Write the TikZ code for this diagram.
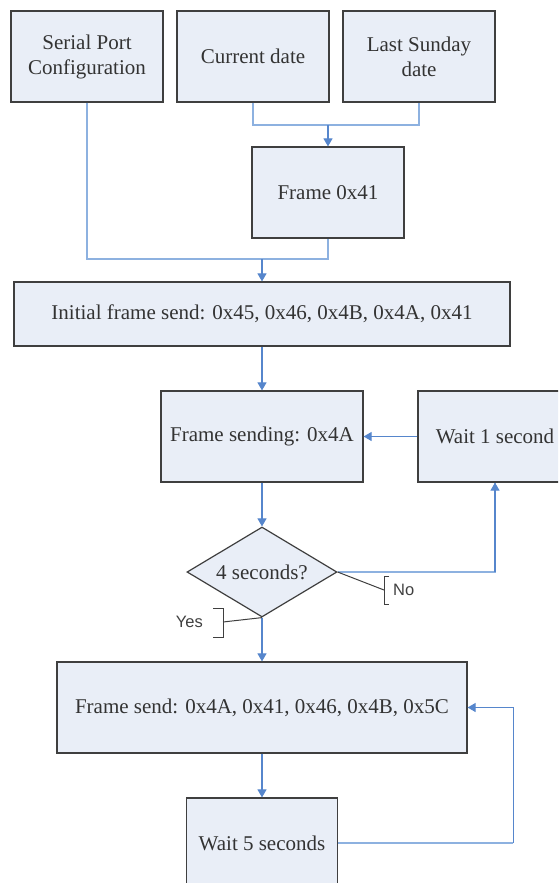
\documentclass[tikz,border=0pt]{standalone}
\usepackage{fontspec}
\setmainfont{Liberation Serif}
\newfontfamily\calloutfont{Liberation Sans}
\usetikzlibrary{positioning}
\usetikzlibrary{shapes.geometric,arrows.meta}
\definecolor{boxFill}{HTML}{E9EEF7}
\definecolor{boxLine}{HTML}{3F3F3F}
\definecolor{linkLight}{HTML}{8DB1E0}
\definecolor{linkDark}{HTML}{5686CC}
\tikzset{
	stepBox/.style={draw=boxLine, fill=boxFill, line width=1.2pt, align=center,
		inner sep=2pt, font=\fontsize{21}{25}\selectfont, text=black!80},
	checkBox/.style={stepBox, diamond, aspect=1.67, inner sep=0pt,
		minimum width=150pt, minimum height=90pt},
	link/.style={draw=linkLight, line width=1.1pt},
	flow/.style={draw=linkDark, line width=1.1pt, -{Triangle[length=8pt,width=9pt]}},
	callout/.style={draw=boxLine, line width=1pt},
	calloutText/.style={inner sep=0pt, font=\calloutfont\fontsize{16.5}{18}\selectfont, text=black!75}
}
\begin{document}
\begin{tikzpicture}[x=1pt,y=-1pt]
			\path[use as bounding box, clip] (0,0) rectangle (558,883);
			\node[stepBox, minimum width=152pt, minimum height=91pt] (serial) at (87,56.5) {Serial Port\\Configuration};
			\node[stepBox, minimum width=152pt, minimum height=91pt] (current) at (253,56.5) {Current date};
			\node[stepBox, minimum width=152pt, minimum height=91pt] (sunday) at (419,56.5) {Last Sunday\\date};
			\node[stepBox, minimum width=152pt, minimum height=91pt] (frame41) at (328,192.5) {Frame 0x41};
			\node[stepBox, minimum width=496pt, minimum height=64pt] (initial) at (262,314) {Initial frame send: 0x45, 0x46, 0x4B, 0x4A, 0x41};
			\node[stepBox, minimum width=202pt, minimum height=91pt] (sending) at (262,436.5) {Frame sending: 0x4A};
			\node[stepBox, minimum width=154pt, minimum height=91pt] (wait1) at (495,436.5) {Wait 1 second};
			\node[checkBox] (check) at (262,572) {4 seconds?};
			\node[stepBox, minimum width=410pt, minimum height=91pt] (frameSend) at (262,707.5) {Frame send: 0x4A, 0x41, 0x46, 0x4B, 0x5C};
			\node[stepBox, minimum width=151pt, minimum height=90pt] (wait5) at (262,843) {Wait 5 seconds};
			% inputs
			\coordinate (topJoin) at (328,125);
			\coordinate (midJoin) at (262,259);
			\draw[link] (current.south) |- (topJoin) -| (sunday.south);
			\draw[flow] (topJoin) -- (frame41.north);
			\draw[link] (serial.south) |- (midJoin) -| (frame41.south);
			\draw[flow] (midJoin) -- (initial.north);
			% loop
			\draw[flow] (initial.south) -- (sending.north);
			\draw[flow] (wait1.west) -- (sending.east);
			\draw[flow] (sending.south) -- (check.north);
			\draw[link] (check.east) -| (wait1.south);
			\draw[flow] (check.east -| wait1.south) -- (wait1.south);
			\draw[flow] (check.south) -- (frameSend.north);
			\draw[flow] (frameSend.south) -- (wait5.north);
			\draw[link] (wait5.east) -- ++(175,0) coordinate (backCorner);
			\draw[flow] (backCorner) |- (frameSend.east);
			% yes / no
			\coordinate (noMark) at (384,590);
			\coordinate (yesMark) at (223,622);
			\draw[callout] (check.east) -- (noMark);
			\draw[callout] (389,576) -- (384,576) -- (384,604) -- (389,604);
			\node[calloutText, anchor=west] (noLabel) at (393,590) {No};
			\draw[callout] (check.south) -- (yesMark);
			\draw[callout] (213,608) -- (223,608) -- (223,637) -- (213,637);
			\node[calloutText, anchor=east] (yesLabel) at (203,622) {Yes};
	\end{tikzpicture}
\end{document}
